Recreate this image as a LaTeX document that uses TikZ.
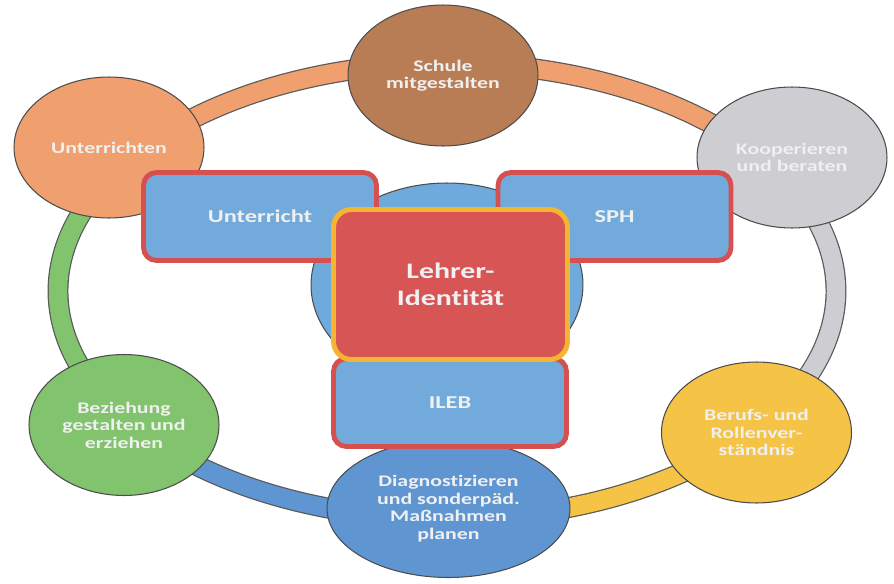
\documentclass[tikz,border=0pt]{standalone}
\usepackage{fontspec}
\newfontfamily\kfont[FakeStretch=1.35, Ligatures=NoCommon]{Carlito}
\usetikzlibrary{shapes.geometric}
\definecolor{orangeC}{HTML}{F0A06E}
\definecolor{brownC}{HTML}{B97D55}
\definecolor{grayC}{HTML}{CDCDD2}
\definecolor{yellowC}{HTML}{F5C346}
\definecolor{blueC}{HTML}{5F96D2}
\definecolor{greenC}{HTML}{82C36E}
\definecolor{feldblau}{HTML}{73AADC}
\definecolor{rahmenrot}{HTML}{D75050}
\definecolor{kernrot}{HTML}{D75555}
\definecolor{kerngelb}{HTML}{F5B432}
\definecolor{kernblau}{HTML}{6EAADC}
\definecolor{txt}{HTML}{F0F0F0}
\begin{document}
\begin{tikzpicture}[x=0.02cm, y=0.02cm,
			kr/.style={ellipse, draw=gray!60!black, line width=0.6pt, fill=#1, inner sep=0pt, minimum width=3.8cm, minimum height=2.82cm, text=txt, align=center, font=\kfont\bfseries\fontsize{9.2}{10}\selectfont},
			fb/.style={rectangle, rounded corners=0.26cm, draw=rahmenrot, line width=2.8pt, fill=feldblau, minimum width=4.66cm, minimum height=1.76cm, text=txt, font=\kfont\bfseries\fontsize{10.3}{12}\selectfont},
			rg/.style={draw=gray!70!black, line width=0.7pt, double=#1, double distance=10.5pt}]
			\useasboundingbox (0,0) rectangle (894,583);
			%---------------- RING ----------------
			\coordinate (ring) at (447,292);
			\draw[rg=orangeC] (ring) ++(144:389 and 228) arc[start angle=144, end angle=34, x radius=389, y radius=228];
			\draw[rg=grayC] (ring) ++(34:389 and 228) arc[start angle=34, end angle=-38, x radius=389, y radius=228];
			\draw[rg=yellowC] (ring) ++(-38:389 and 228) arc[start angle=-38, end angle=-90, x radius=389, y radius=228];
			\draw[rg=blueC] (ring) ++(-90:389 and 228) arc[start angle=-90, end angle=-145, x radius=389, y radius=228];
			\draw[rg=greenC] (ring) ++(215:389 and 228) arc[start angle=215, end angle=144, x radius=389, y radius=228];
			%---------------- KREISE ----------------
			\node[kr=orangeC] (unterrichten) at (109,435.5) {Unterrichten};
			\node[kr=brownC] (schule) at (443,507.5) {Schule\\mitgestalten};
			\node[kr=grayC] (kooperieren) at (792,425.5) {Kooperieren\\und beraten};
			\node[kr=greenC] (beziehung) at (124,158) {Beziehung\\gestalten und\\erziehen};
			\node[kr=yellowC] (berufs) at (756.5,150.5) {Berufs- und\\Rollenver-\\ständnis};
			\node[kr=blueC, minimum width=4.86cm, minimum height=2.76cm] (diagnose) at (448.5,74.5) {Diagnostizieren\\und sonderpäd.\\Maßnahmen\\planen};
			%---------------- MITTE ----------------
			\node[ellipse, draw=gray!60!black, line width=0.6pt, fill=kernblau, minimum width=5.44cm, minimum height=4.08cm] (kern) at (447,298) {};
			\node[fb] (unterricht) at (260,366.5) {Unterricht};
			\node[fb] (sph) at (614.5,366.5) {SPH};
			\node[fb] (ileb) at (450,180.5) {ILEB};
			\node[fb, draw=kerngelb, fill=kernrot, rounded corners=0.36cm, minimum width=4.68cm, minimum height=3.0cm, align=center, font=\kfont\bfseries\fontsize{12.6}{15.3}\selectfont] (lehrer) at (450.5,298.5) {Lehrer-\\Identität};
		\end{tikzpicture}
\end{document}
